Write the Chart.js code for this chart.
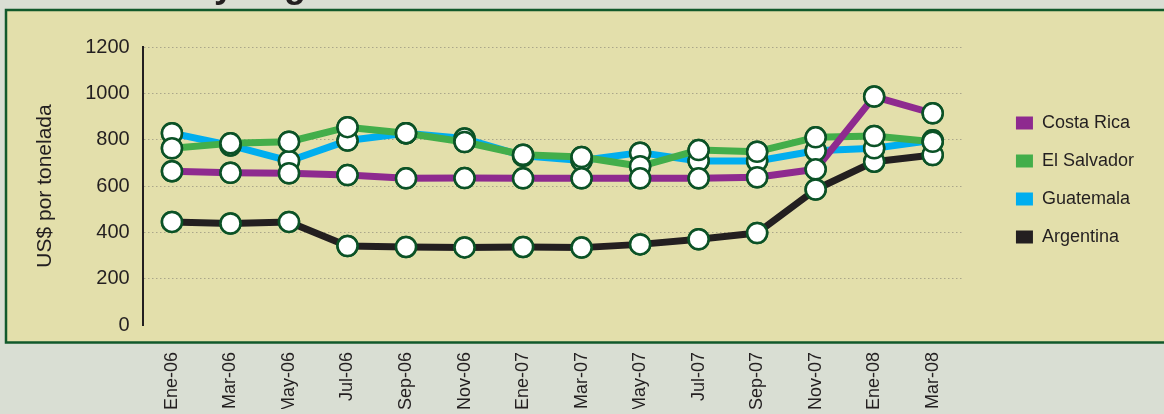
<!DOCTYPE html>
<html>
<head>
<meta charset="utf-8">
<script src="https://cdn.jsdelivr.net/npm/chart.js@4/dist/chart.umd.min.js"></script>
<style>
  html, body { margin: 0; padding: 0; background: #d9ded3; }
  #wrap { width: 1164px; height: 414px; }
</style>
</head>
<body>
<div id="wrap"><canvas id="c" width="1164" height="414"></canvas></div>
<script>
const categories = ['Ene-06','Mar-06','May-06','Jul-06','Sep-06','Nov-06','Ene-07','Mar-07','May-07','Jul-07','Sep-07','Nov-07','Ene-08','Mar-08'];
const costaRica  = [664,657,655,647,633,634,633,633,633,633,638,672,986,914];
const elSalvador = [763,784,791,854,828,790,735,725,685,755,748,810,816,791];
const guatemala  = [828,775,708,796,828,805,730,710,744,708,708,752,763,797];
const argentina  = [445,438,445,341,337,335,337,334,348,370,397,585,705,734];
const yTicks = [0,200,400,600,800,1000,1200];
const seriesNames = ['Costa Rica','El Salvador','Guatemala','Argentina'];
const titleText = 'Costa Rica y Argentina';
const yTitle = 'US$ por tonelada';

const FONT = "'Liberation Sans', Arial, Helvetica, sans-serif";
const TEXT = '#231f20';
const colors = ['#8e2a8f', '#43ae4a', '#00aeef', '#231f20'];
const seriesData = [costaRica, elSalvador, guatemala, argentina];

const backgroundPlugin = {
  id: 'panel',
  beforeDraw(chart) {
    const ctx = chart.ctx;
    ctx.save();
    ctx.fillStyle = '#d9ded3';
    ctx.fillRect(0, 0, chart.width, chart.height);
    const top = 10, left = 6, bottom = chart.chartArea.bottom + 17.5;
    ctx.fillStyle = '#e3dfab';
    ctx.fillRect(left, top, chart.width + 20, bottom - top);
    ctx.strokeStyle = '#11592b';
    ctx.lineWidth = 2.5;
    ctx.strokeRect(left, top, chart.width + 20, bottom - top);
    // cut-off title at the very top
    ctx.fillStyle = TEXT;
    ctx.font = "bold 36px " + FONT;
    ctx.textBaseline = 'alphabetic';
    ctx.fillText(titleText, 18, -3);
    ctx.restore();
  }
};

const pointsOnTop = {
  id: 'pointsOnTop',
  afterDatasetsDraw(chart) {
    const ctx = chart.ctx;
    for (let i = chart.data.datasets.length - 1; i >= 0; i--) {
      const meta = chart.getDatasetMeta(i);
      meta.data.forEach(el => el.draw(ctx, chart.chartArea));
    }
  }
};

const legendShift = {
  id: 'legendShift',
  afterLayout(chart) {
    const lg = chart.legend;
    const dx = chart.chartArea.right + 34 - lg.left;
    lg.left += dx; lg.right += dx;
    const dy = -48;
    lg.top += dy; lg.bottom += dy;
  }
};

const datasets = seriesNames.map((name, i) => ({
  label: name,
  data: seriesData[i],
  borderColor: colors[i],
  backgroundColor: colors[i],
  borderWidth: 7,
  tension: 0,
  borderJoinStyle: 'round',
  pointRadius: 10,
  pointHoverRadius: 10,
  pointBorderWidth: 2.5,
  pointBorderColor: '#0b5226',
  pointBackgroundColor: '#ffffff',
  fill: false
}));

new Chart(document.getElementById('c'), {
  type: 'line',
  data: { labels: categories, datasets },
  plugins: [backgroundPlugin, pointsOnTop, legendShift],
  options: {
    responsive: false,
    animation: false,
    events: [],
    layout: { padding: { left: 33, right: 54, top: 47, bottom: 5 } },
    plugins: {
      tooltip: { enabled: false },
      title: { display: false },
      legend: {
        position: 'right',
        align: 'center',
        labels: {
          boxWidth: 17,
          boxHeight: 13,
          padding: 20,
          color: TEXT,
          font: { family: FONT, size: 18 },
          generateLabels: chart => chart.data.datasets.map((d, i) => ({
            text: d.label, fillStyle: d.borderColor, strokeStyle: d.borderColor,
            lineWidth: 0, hidden: false, datasetIndex: i, fontColor: TEXT
          }))
        }
      }
    },
    scales: {
      x: {
        type: 'category',
        offset: true,
        grid: { display: false, drawTicks: false },
        border: { display: false },
        afterFit: scale => { scale.height = 84; },
        ticks: {
          autoSkip: false,
          minRotation: 90,
          maxRotation: 90,
          padding: 27,
          color: TEXT,
          font: { family: FONT, size: 18 }
        }
      },
      y: {
        min: 0,
        max: 1200,
        afterBuildTicks: scale => { scale.ticks = yTicks.map(v => ({ value: v })); },
        grid: {
          drawTicks: false,
          color: ctx => (ctx.tick && ctx.tick.value === 0) ? 'rgba(0,0,0,0)' : '#aaa68a',
          lineWidth: 1
        },
        border: { display: true, color: TEXT, width: 2, dash: [1.5, 2.5], dashOffset: 0 },
        ticks: {
          padding: 13,
          color: TEXT,
          font: { family: FONT, size: 20 },
          callback: v => String(v)
        },
        title: {
          display: true,
          text: yTitle,
          color: TEXT,
          font: { family: FONT, size: 21 },
          padding: { top: 0, bottom: 14 }
        }
      }
    }
  }
});
</script>
</body>
</html>
